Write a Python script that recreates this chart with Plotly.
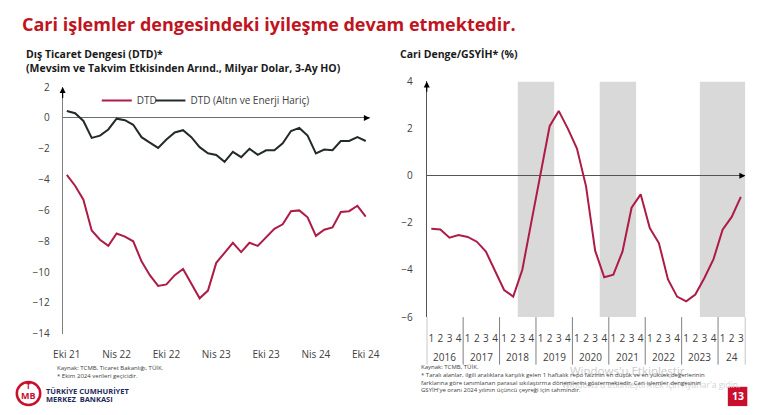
import plotly.graph_objects as go

# ---------------- DATA ----------------
# Left chart: monthly, Oct 2021 .. Oct 2024
month_names = ["Oca", "Şub", "Mar", "Nis", "May", "Haz", "Tem", "Ağu", "Eyl", "Eki", "Kas", "Ara"]
months = []
for i in range(37):
    m = (9 + i) % 12
    y = 21 + (9 + i) // 12
    months.append(f"{month_names[m]} {y}")
tick_months = ["Eki 21", "Nis 22", "Eki 22", "Nis 23", "Eki 23", "Nis 24", "Eki 24"]

dtd = [-3.7, -4.4, -5.3, -7.3, -7.9, -8.3, -7.5, -7.7, -8.0, -9.3, -10.2, -10.9, -10.8,
       -10.2, -9.8, -10.8, -11.7, -11.2, -9.4, -8.75, -8.1, -8.7, -8.1, -8.3, -7.75,
       -7.2, -6.9, -6.05, -6.0, -6.45, -7.65, -7.25, -7.1, -6.1, -6.05, -5.7, -6.4]
dtd_ex = [0.45, 0.3, -0.2, -1.3, -1.15, -0.75, -0.05, -0.15, -0.45, -1.25, -1.6, -1.95, -1.4,
          -0.95, -0.8, -1.25, -1.9, -2.3, -2.4, -2.85, -2.2, -2.55, -2.0, -2.4, -2.1,
          -2.1, -1.65, -0.85, -0.65, -1.15, -2.3, -2.05, -2.1, -1.5, -1.5, -1.25, -1.5]

left_yticks = [2, 0, -2, -4, -6, -8, -10, -12, -14]

# Right chart: quarterly, 2016Q1 .. 2024Q3
years = ["2016", "2017", "2018", "2019", "2020", "2021", "2022", "2023", "2024"]
year_labels = ["2016", "2017", "2018", "2019", "2020", "2021", "2022", "2023", "24"]
quarters_per_year = [4, 4, 4, 4, 4, 4, 4, 4, 3]
quarters = []
for yr, nq in zip(years, quarters_per_year):
    for q in range(1, nq + 1):
        quarters.append(f"{yr}Q{q}")
quarter_labels = [q[-1] for q in quarters]

cab = [-2.25, -2.28, -2.63, -2.52, -2.6, -2.8, -3.22, -4.06, -4.85, -5.13, -3.99, -1.95,
       0.1, 2.1, 2.75, 2.0, 1.15, -0.45, -3.18, -4.31, -4.2, -3.22, -1.36, -0.79,
       -2.22, -2.86, -4.4, -5.13, -5.33, -5.04, -4.34, -3.54, -2.29, -1.75, -0.9]

tightening = [("2018Q3", "2019Q2"), ("2020Q4", "2021Q3"), ("2023Q3", "2024Q3")]
right_yticks = [4, 2, 0, -2, -4, -6]

# ---------------- STYLE ----------------
W, H = 770, 415
RED = "#AE1B46"
DARK = "#222A2A"
TITLE_RED = "#C0141E"
TXT = "#404040"
FONT = "Open Sans"


def px(x):
    return x / W


def py(y):
    return 1 - y / H


fig = go.Figure()
xi = list(range(len(months)))
fig.add_trace(go.Scatter(x=xi, y=dtd, mode="lines", name="DTD", legend="legend",
                         line=dict(color=RED, width=2), xaxis="x", yaxis="y"))
fig.add_trace(go.Scatter(x=xi, y=dtd_ex, mode="lines", name="DTD (Altın ve Enerji Hariç)",
                         legend="legend2", line=dict(color=DARK, width=2),
                         xaxis="x", yaxis="y"))
qi = list(range(len(quarters)))
fig.add_trace(go.Scatter(x=qi, y=cab, mode="lines", showlegend=False,
                         line=dict(color=RED, width=2), xaxis="x2", yaxis="y2"))

tickvals_left = [months.index(t) for t in tick_months]

legend_common = dict(orientation="h", yanchor="middle", xanchor="left",
                     font=dict(size=10, color=TXT), bgcolor="rgba(0,0,0,0)", itemwidth=30)

fig.update_layout(
    width=W, height=H, margin=dict(l=0, r=0, t=0, b=0),
    paper_bgcolor="white", plot_bgcolor="white",
    font=dict(family=FONT, color=TXT, size=10),
    xaxis=dict(domain=[px(55), px(370)], range=[-0.5, len(months) - 0.5],
               tickvals=tickvals_left, ticktext=tick_months, showgrid=False,
               zeroline=False, showline=False, ticks="", ticklabelstandoff=13,
               tickfont=dict(size=10, color=TXT), anchor="y"),
    yaxis=dict(domain=[py(338), py(82)], range=[-14, 2], tickvals=left_yticks,
               showgrid=False, zeroline=True, zerolinecolor="#6E6E6E", zerolinewidth=1,
               showline=True, linecolor="#7F7F7F", linewidth=1, ticks="",
               ticklabelstandoff=10, tickfont=dict(size=10, color=TXT), anchor="x"),
    xaxis2=dict(domain=[px(428.3), px(755)], range=[-0.5, len(quarters) - 0.5],
                tickvals=qi, ticktext=quarter_labels, showgrid=False, zeroline=False,
                showline=False, ticks="", ticklabelstandoff=14,
                tickfont=dict(size=10, color=TXT), anchor="y2"),
    yaxis2=dict(domain=[py(320.7), py(76.2)], range=[-6, 4], tickvals=right_yticks,
                showgrid=False, zeroline=True, zerolinecolor="#555555", zerolinewidth=1,
                showline=True, linecolor="#555555", linewidth=1, ticks="",
                ticklabelstandoff=11, tickfont=dict(size=10, color=TXT), anchor="x2"),
    legend=dict(x=px(90), y=py(96), **legend_common),
    legend2=dict(x=px(145), y=py(96), **legend_common),
    showlegend=True,
)

shapes = []
# tightening shading
for a, b in tightening:
    shapes.append(dict(type="rect", xref="x2", yref="y2", x0=quarters.index(a) - 0.5,
                       x1=quarters.index(b) + 0.5, y0=-6, y1=4, fillcolor="#D9D9D9",
                       line=dict(width=0), layer="below"))
# year dividers
bounds = [-0.5]
acc = -0.5
for nq in quarters_per_year:
    acc += nq
    bounds.append(acc)
for bx in bounds:
    shapes.append(dict(type="line", xref="x2", yref="paper", x0=bx, x1=bx,
                       y0=py(370), y1=py(320.7), line=dict(color="#7F7F7F", width=1)))
# page number box
shapes.append(dict(type="rect", xref="paper", yref="paper", x0=px(737), x1=px(757),
                   y0=py(413), y1=py(393), fillcolor="#C8102E", line=dict(width=0)))
# logo ring
shapes.append(dict(type="circle", xref="paper", yref="paper", x0=px(8), x1=px(32),
                   y0=py(412), y1=py(388), line=dict(color="#C8102E", width=2.5)))
fig.update_layout(shapes=shapes)

ann = []
# axis arrows
ann.append(dict(x=-0.5, y=2, xref="x", yref="y", ax=-0.5, ay=1.2, axref="x", ayref="y",
                showarrow=True, arrowhead=2, arrowsize=1, arrowwidth=1.2,
                arrowcolor="#000000", text=""))
ann.append(dict(x=len(months) - 0.5, y=0, xref="x", yref="y", ax=len(months) - 1.3, ay=0,
                axref="x", ayref="y", showarrow=True, arrowhead=2, arrowsize=1,
                arrowwidth=1.2, arrowcolor="#000000", text=""))
ann.append(dict(x=-0.5, y=4, xref="x2", yref="y2", ax=-0.5, ay=3.5, axref="x2", ayref="y2",
                showarrow=True, arrowhead=2, arrowsize=1, arrowwidth=1.2,
                arrowcolor="#000000", text=""))
ann.append(dict(x=len(quarters) - 0.5, y=0, xref="x2", yref="y2", ax=len(quarters) - 1.3,
                ay=0, axref="x2", ayref="y2", showarrow=True, arrowhead=2, arrowsize=1,
                arrowwidth=1.2, arrowcolor="#000000", text=""))

# year labels
start = -0.5
for lbl, nq in zip(year_labels, quarters_per_year):
    ann.append(dict(x=start + nq / 2, y=py(362), xref="x2", yref="paper", text=lbl,
                    showarrow=False, xanchor="center", yanchor="middle",
                    font=dict(size=10, color=TXT)))
    start += nq


def txt(x, y, s, size, color=TXT, bold=False, anchor="left", family=FONT):
    if bold:
        s = f"<b>{s}</b>"
    ann.append(dict(x=px(x), y=py(y), xref="paper", yref="paper", text=s,
                    showarrow=False, xanchor=anchor, yanchor="middle", align="left",
                    font=dict(size=size, color=color, family=family)))


txt(11, 17, "Cari işlemler dengesindeki iyileşme devam etmektedir.", 18, TITLE_RED, True)
txt(15, 48, "Dış Ticaret Dengesi (DTD)*", 10.5, "#1A1A1A", True)
txt(15, 62, "(Mevsim ve Takvim Etkisinden Arınd., Milyar Dolar, 3-Ay HO)", 10.5, "#1A1A1A", True)
txt(399, 48, "Cari Denge/GSYİH* (%)", 10.5, "#1A1A1A", True)

# watermark (drawn first, under the footnotes)
txt(573, 376, "Windows'u Etkinleştir", 11.5, "#CBCBCB")
txt(752, 391, "Windows'u etkinleştirmek için Ayarlar'a gidin.", 8.5, "#D4D4D4", anchor="right")

# footnotes
txt(47, 377.5, "Kaynak: TCMB, Ticaret Bakanlığı, TÜİK.<br>* Ekim 2024 verileri geçicidir.", 6, TXT)
txt(420, 384.5,
    "Kaynak: TCMB, TÜİK."
    "<br>* Taralı alanlar, ilgili aralıklara karşılık gelen 1 haftalık repo faizinin en düşük ve en yüksek değerlerinin"
    "<br>farklarına göre tanımlanan parasal sıkılaştırma dönemlerini göstermektedir. Cari işlemler dengesinin"
    "<br>GSYİH'ye oranı 2024 yılının üçüncü çeyreği için tahmindir.", 6, TXT)

# logo
txt(20, 402, "MB", 9, "#C8102E", True, anchor="center")
txt(20, 392, "T", 8, "#C8102E", True, anchor="center")
txt(36, 397.5, "TÜRKİYE CUMHURİYET", 7.5, "#1F2B5B", True)
txt(36, 406, "MERKEZ  BANKASI", 7.5, "#1F2B5B", True)

# page number
txt(747, 403, "13", 10.5, "#FFFFFF", True, anchor="center")

fig.update_layout(annotations=ann)
fig.write_html("out.html")
